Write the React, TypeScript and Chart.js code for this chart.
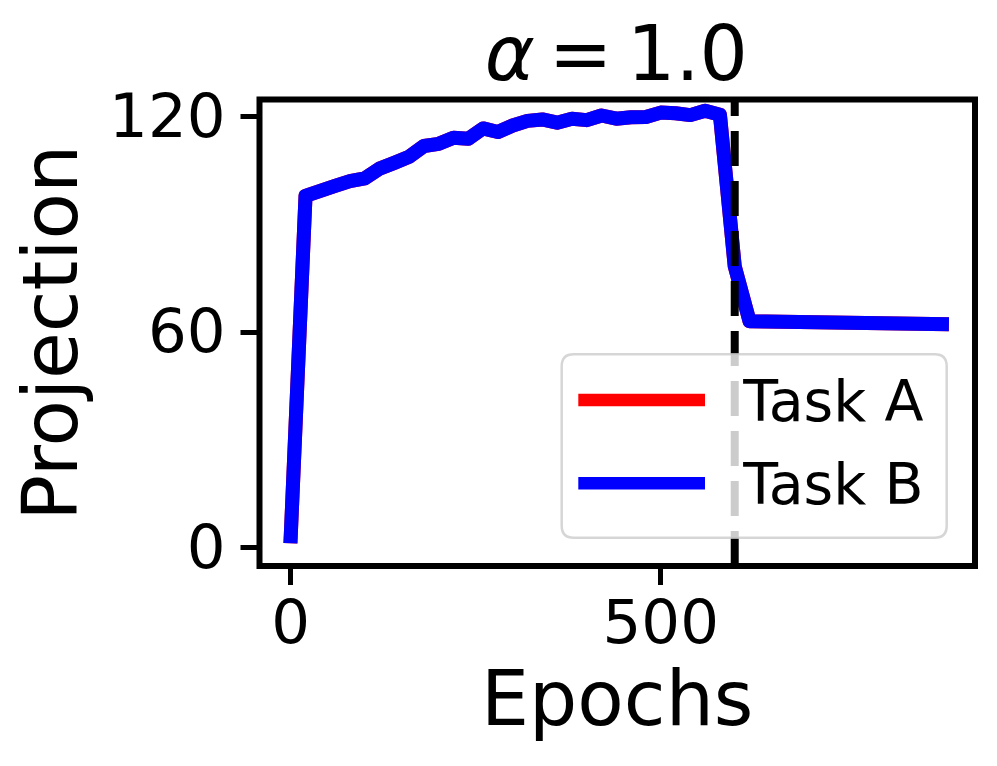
import React, { useEffect, useRef } from "react";
import { Chart, registerables } from "chart.js";

Chart.register(...registerables);

// ---- data ----
const epochs = [
  0, 20, 40, 60, 80, 100, 120, 140, 160, 180, 200, 220, 240, 260, 280, 300,
  320, 340, 360, 380, 400, 420, 440, 460, 480, 500, 520, 540, 560, 580, 600,
  620, 880,
];
const taskBValues = [
  3.2, 98.0, 99.4, 100.8, 102.1, 102.9, 105.6, 107.2, 108.9, 111.9, 112.5,
  114.2, 113.9, 116.8, 115.8, 117.6, 118.9, 119.3, 118.4, 119.5, 119.1, 120.4,
  119.5, 119.9, 120.0, 121.2, 121.0, 120.5, 121.7, 120.6, 78.4, 63.1, 62.3,
];
// Task A lies exactly under Task B in the reference (only its legend entry shows)
const taskAValues = [
  3.2, 98.0, 99.4, 100.8, 102.1, 102.9, 105.6, 107.2, 108.9, 111.9, 112.5,
  114.2, 113.9, 116.8, 115.8, 117.6, 118.9, 119.3, 118.4, 119.5, 119.1, 120.4,
  119.5, 119.9, 120.0, 121.2, 121.0, 120.5, 121.7, 120.6, 78.4, 63.1, 62.3,
];
const seriesLabels = ["Task A", "Task B"];
const seriesColors = ["#ff0000", "#0000ff"];
const xTickValues = [0, 500];
const yTickValues = [0, 60, 120];
const xRange = [-42.2, 924.7];
const yRange = [-5.1, 124.85];
const switchEpoch = 600;
const titleSymbol = "α";
const titleRest = ["=", "1.0"];
const xTitle = "Epochs";
const yTitle = "Projection";

const FONT = "'DejaVu Sans', 'Liberation Sans', sans-serif";
const LINE_W = 14;

const frameAndMarkers = {
  id: "frameAndMarkers",
  afterDatasetsDraw(chart: any) {
    const { ctx, chartArea: ca, scales } = chart;
    // dashed vertical line
    const x = scales.x.getPixelForValue(switchEpoch);
    ctx.save();
    ctx.beginPath();
    ctx.rect(ca.left, ca.top, ca.right - ca.left, ca.bottom - ca.top);
    ctx.clip();
    ctx.strokeStyle = "#000000";
    ctx.lineWidth = 8;
    ctx.lineCap = "butt";
    ctx.setLineDash([35, 15]);
    ctx.beginPath();
    ctx.moveTo(x, ca.bottom);
    ctx.lineTo(x, ca.top);
    ctx.stroke();
    ctx.restore();
    // frame
    ctx.save();
    ctx.strokeStyle = "#000000";
    ctx.lineWidth = 6;
    ctx.lineJoin = "miter";
    ctx.strokeRect(ca.left, ca.top, ca.right - ca.left, ca.bottom - ca.top);
    ctx.restore();
  },
  afterDraw(chart: any) {
    const { ctx, chartArea: ca } = chart;
    // title (mathtext style: italic alpha)
    const cx = (ca.left + ca.right) / 2;
    const base = 80;
    ctx.save();
    ctx.fillStyle = "#000000";
    ctx.textBaseline = "alphabetic";
    ctx.textAlign = "left";
    const drawAtLeft = (text: string, font: string, left: number) => {
      ctx.font = font;
      const m = ctx.measureText(text);
      ctx.fillText(text, left + m.actualBoundingBoxLeft, base);
    };
    drawAtLeft(titleSymbol, `italic 76px ${FONT}`, cx - 130.5);
    drawAtLeft(titleRest[0], `76px ${FONT}`, cx - 60.5);
    drawAtLeft(titleRest[1], `76px ${FONT}`, cx + 17.8);
    ctx.restore();

    // legend
    const w = 385;
    const h = 183.4;
    const right = ca.right - 28.3;
    const bottom = ca.bottom - 28.3;
    const left = right - w;
    const top = bottom - h;
    const r = 12;
    ctx.save();
    ctx.beginPath();
    ctx.moveTo(left + r, top);
    ctx.lineTo(right - r, top);
    ctx.quadraticCurveTo(right, top, right, top + r);
    ctx.lineTo(right, bottom - r);
    ctx.quadraticCurveTo(right, bottom, right - r, bottom);
    ctx.lineTo(left + r, bottom);
    ctx.quadraticCurveTo(left, bottom, left, bottom - r);
    ctx.lineTo(left, top + r);
    ctx.quadraticCurveTo(left, top, left + r, top);
    ctx.closePath();
    ctx.fillStyle = "rgba(255,255,255,0.8)";
    ctx.fill();
    ctx.strokeStyle = "rgba(204,204,204,0.8)";
    ctx.lineWidth = 2.5;
    ctx.stroke();
    const rows = [45.7, 129];
    chart.data.datasets.forEach((ds: any, i: number) => {
      const y = top + rows[i];
      ctx.strokeStyle = ds.borderColor;
      ctx.lineWidth = 12.5;
      ctx.lineCap = "butt";
      ctx.beginPath();
      ctx.moveTo(left + 16.6, y);
      ctx.lineTo(left + 143.3, y);
      ctx.stroke();
      ctx.fillStyle = "#000000";
      ctx.font = `57px ${FONT}`;
      ctx.textAlign = "left";
      ctx.textBaseline = "alphabetic";
      ctx.fillText(ds.label, left + 181.6, y + 21);
    });
    ctx.restore();
  },
};

export default function App() {
  const ref = useRef<HTMLCanvasElement | null>(null);
  useEffect(() => {
    if (!ref.current) return;
    const mk = (vals: number[]) => epochs.map((e, i) => ({ x: e, y: vals[i] }));
    const chart = new Chart(ref.current, {
      type: "line",
      data: {
        datasets: [
          {
            label: seriesLabels[0],
            data: mk(taskAValues),
            borderColor: seriesColors[0],
            backgroundColor: seriesColors[0],
            borderWidth: LINE_W,
            pointRadius: 0,
            tension: 0,
            borderCapStyle: "square",
            borderJoinStyle: "round",
            fill: false,
            order: 2,
          },
          {
            label: seriesLabels[1],
            data: mk(taskBValues),
            borderColor: seriesColors[1],
            backgroundColor: seriesColors[1],
            borderWidth: LINE_W,
            pointRadius: 0,
            tension: 0,
            borderCapStyle: "square",
            borderJoinStyle: "round",
            fill: false,
            order: 1,
          },
        ],
      },
      options: {
        animation: false,
        responsive: false,
        devicePixelRatio: 1,
        layout: { padding: { top: 99.5, right: 22, bottom: 0, left: 0 } },
        plugins: {
          legend: { display: false },
          title: { display: false },
          tooltip: { enabled: false },
        },
        events: [],
        scales: {
          x: {
            type: "linear",
            min: xRange[0],
            max: xRange[1],
            afterBuildTicks: (s: any) => {
              s.ticks = xTickValues.map((v) => ({ value: v }));
            },
            afterFit: (s: any) => {
              s.height = 200;
            },
            grid: {
              display: true,
              drawOnChartArea: false,
              drawTicks: true,
              tickLength: 19,
              tickWidth: 5,
              tickColor: "#000000",
            },
            border: { display: false },
            ticks: {
              color: "#000000",
              font: { family: FONT, size: 61, lineHeight: 1 },
              padding: 11.4,
              maxRotation: 0,
              autoSkip: false,
            },
            title: {
              display: true,
              text: xTitle,
              color: "#000000",
              font: { family: FONT, size: 76, lineHeight: 1 },
              padding: { top: 0, bottom: 22.3 },
            },
          },
          y: {
            type: "linear",
            min: yRange[0],
            max: yRange[1],
            afterBuildTicks: (s: any) => {
              s.ticks = yTickValues.map((v) => ({ value: v }));
            },
            afterFit: (s: any) => {
              s.width = 259.5;
            },
            grid: {
              display: true,
              drawOnChartArea: false,
              drawTicks: true,
              tickLength: 19,
              tickWidth: 5,
              tickColor: "#000000",
            },
            border: { display: false },
            ticks: {
              color: "#000000",
              font: { family: FONT, size: 61, lineHeight: 1 },
              padding: 15,
              labelOffset: 4,
              autoSkip: false,
            },
            title: {
              display: true,
              text: yTitle,
              color: "#000000",
              font: { family: FONT, size: 76, lineHeight: 1 },
              padding: { top: 19.4, bottom: 0 },
            },
          },
        },
      },
      plugins: [frameAndMarkers],
    } as any);
    return () => chart.destroy();
  }, []);
  return (
    <div style={{ position: "absolute", left: 0, top: 0, width: 997, height: 766, background: "#ffffff" }}>
      <canvas ref={ref} width={997} height={766} style={{ display: "block" }} />
    </div>
  );
}
